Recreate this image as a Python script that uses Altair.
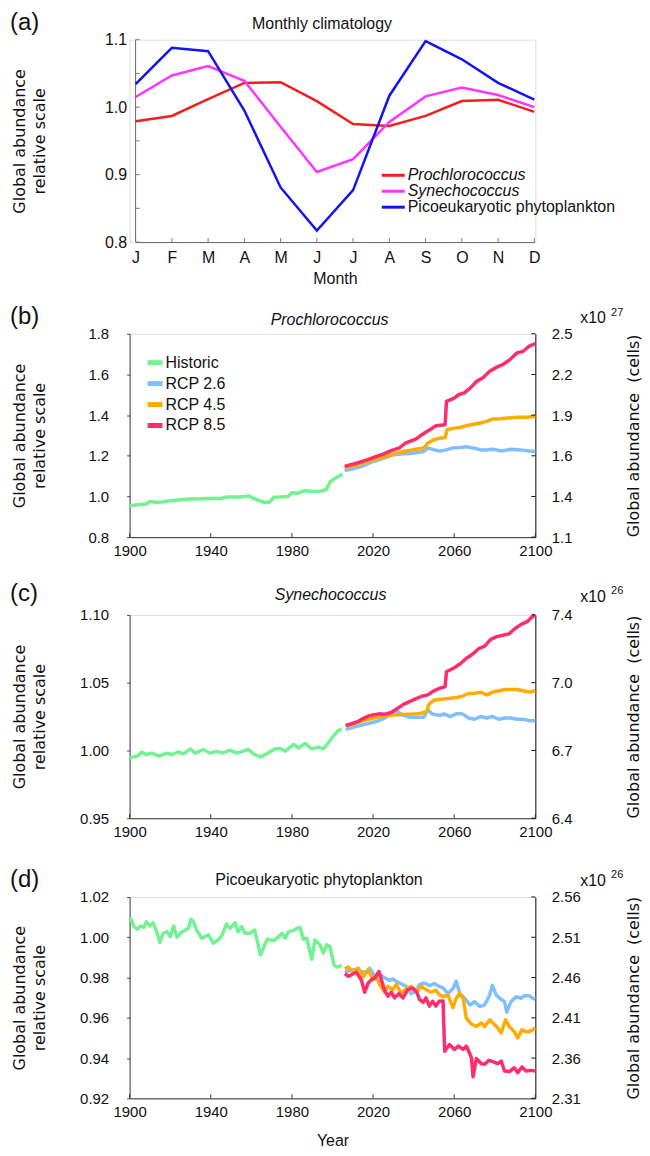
import altair as alt
import pandas as pd

FONT = "Liberation Sans"
TFONT = "DejaVu Sans"
INK = "#111111"

# ---------------- panel (a): monthly climatology ----------------
months = ["Jan", "Feb", "Mar", "Apr", "May", "Jun", "Jul", "Aug", "Sep", "Oct", "Nov", "Dec"]
a_species = ["Prochlorococcus", "Synechococcus", "Picoeukaryotic phytoplankton"]
a_colors = ["#f41d1d", "#ff34ff", "#1414ee"]
a_italic = [True, True, False]
a_pro = [0.979, 0.987, 1.012, 1.036, 1.037, 1.009, 0.975, 0.972, 0.987, 1.009, 1.011, 0.993]
a_syn = [1.015, 1.047, 1.061, 1.039, 0.971, 0.904, 0.923, 0.978, 1.016, 1.029, 1.018, 1.000]
a_pico = [1.034, 1.088, 1.083, 0.995, 0.881, 0.817, 0.877, 1.017, 1.098, 1.071, 1.036, 1.011]
a_minor_ticks = [0.8, 0.85, 0.9, 0.95, 1.0, 1.05, 1.1]
a_label_ticks = [0.8, 0.9, 1.0, 1.1]

# ---------------- time series shared ----------------
series = ["Historic", "RCP 2.6", "RCP 4.5", "RCP 8.5"]
series_colors = ["#72f291", "#80bfff", "#ffab00", "#ff2d6e"]
year_ticks = [1900, 1940, 1980, 2020, 2060, 2100]

# ---------------- panel (b): Prochlorococcus ----------------
b_hist_years = [1900, 1903, 1906, 1908, 1910, 1913, 1916, 1919, 1922, 1925, 1928, 1931, 1934, 1937,
                1941, 1945, 1948, 1951, 1954, 1957, 1959, 1961, 1964, 1966, 1969, 1971, 1975, 1978,
                1980, 1983, 1986, 1990, 1994, 1997, 1999, 2002, 2005]
b_hist_vals = [0.954, 0.958, 0.962, 0.962, 0.975, 0.972, 0.973, 0.978, 0.980, 0.984, 0.986, 0.989,
               0.988, 0.990, 0.990, 0.990, 0.997, 0.997, 0.997, 1.000, 1.003, 0.990, 0.979, 0.972,
               0.972, 0.996, 0.998, 1.000, 1.018, 1.016, 1.028, 1.025, 1.025, 1.035, 1.074, 1.093, 1.110]
b_26_years = [2006, 2010, 2015, 2020, 2025, 2030, 2035, 2040, 2045, 2047, 2050, 2053, 2056, 2060,
              2063, 2066, 2070, 2073, 2076, 2079, 2083, 2088, 2093, 2097, 2100]
b_26_vals = [1.128, 1.136, 1.150, 1.172, 1.187, 1.205, 1.210, 1.213, 1.221, 1.238, 1.230, 1.223,
             1.229, 1.240, 1.241, 1.244, 1.237, 1.229, 1.229, 1.232, 1.224, 1.232, 1.229, 1.224, 1.221]
b_45_years = [2006, 2010, 2015, 2020, 2025, 2030, 2035, 2040, 2045, 2047, 2050, 2053, 2055.5, 2056.5,
              2060, 2063, 2066, 2070, 2073, 2076, 2079, 2083, 2086, 2091, 2096, 2100]
b_45_vals = [1.143, 1.148, 1.164, 1.180, 1.192, 1.208, 1.221, 1.230, 1.238, 1.262, 1.279, 1.287,
             1.289, 1.328, 1.336, 1.339, 1.348, 1.356, 1.361, 1.369, 1.381, 1.382, 1.386, 1.389, 1.389, 1.394]
b_85_years = [2006, 2010, 2013, 2017, 2021, 2025, 2029, 2033, 2036, 2041, 2044, 2048, 2051, 2055.5,
              2056.2, 2060, 2062, 2065, 2068, 2071, 2074, 2077.5, 2081, 2084, 2087.5, 2091, 2094, 2097, 2100]
b_85_vals = [1.148, 1.159, 1.167, 1.180, 1.195, 1.208, 1.225, 1.239, 1.262, 1.282, 1.303, 1.328,
             1.348, 1.353, 1.468, 1.484, 1.500, 1.509, 1.534, 1.566, 1.583, 1.616, 1.636, 1.649,
             1.673, 1.706, 1.714, 1.739, 1.751]
b_left_ticks = [0.8, 1.0, 1.2, 1.4, 1.6, 1.8]
b_right_labels = ["1.1", "1.4", "1.6", "1.9", "2.2", "2.5"]

# ---------------- panel (c): Synechococcus ----------------
c_hist_years = [1900, 1903.8, 1906, 1908, 1911, 1914.4, 1918.4, 1921, 1924, 1926.6, 1930, 1932.3,
                1936.4, 1939.7, 1943, 1946, 1949.5, 1952.7, 1956, 1958.4, 1961.7, 1964.5, 1967.8,
                1971.8, 1974.3, 1976.7, 1980.8, 1983.3, 1986.5, 1989.8, 1993, 1995.5, 1998, 2000.4,
                2002.9, 2004.5]
c_hist_vals = [0.9946, 0.9958, 0.9988, 0.9970, 0.9980, 0.9958, 0.9980, 0.9970, 0.9990, 0.9975,
               1.0012, 0.9980, 1.0007, 0.9980, 0.9993, 0.9980, 1.0002, 0.9980, 0.9995, 1.0007,
               0.9970, 0.9953, 0.9978, 1.0012, 1.0015, 0.9995, 1.0044, 1.0020, 1.0052, 1.0012,
               1.0025, 1.0012, 1.0057, 1.0106, 1.0148, 1.0155]
c_26_years = [2006.5, 2010, 2014, 2018, 2022, 2026, 2029, 2032, 2034, 2038, 2042, 2045, 2047, 2049,
              2053, 2055, 2058, 2061, 2064, 2067, 2070, 2073, 2076, 2079, 2082, 2085, 2088, 2091,
              2094, 2097, 2100]
c_26_vals = [1.0155, 1.0170, 1.0185, 1.0200, 1.0215, 1.0240, 1.0275, 1.0290, 1.0265, 1.0245, 1.0245,
             1.0245, 1.0300, 1.0270, 1.0258, 1.0270, 1.0250, 1.0270, 1.0270, 1.0240, 1.0230, 1.0250,
             1.0240, 1.0250, 1.0230, 1.0240, 1.0240, 1.0230, 1.0230, 1.0220, 1.0220]
c_45_years = [2006.5, 2010, 2014, 2018, 2022, 2026, 2030, 2034, 2038, 2042, 2045, 2046.5, 2047.5,
              2050, 2053, 2055, 2058, 2061, 2064, 2067, 2070, 2073, 2076, 2079, 2082, 2085, 2088,
              2091, 2094, 2097, 2100]
c_45_vals = [1.0180, 1.0195, 1.0215, 1.0230, 1.0245, 1.0255, 1.0262, 1.0265, 1.0268, 1.0270, 1.0280,
             1.0290, 1.0340, 1.0370, 1.0378, 1.0380, 1.0385, 1.0390, 1.0400, 1.0420, 1.0420, 1.0430,
             1.0410, 1.0430, 1.0440, 1.0450, 1.0450, 1.0450, 1.0440, 1.0430, 1.0440]
c_85_years = [2006.5, 2009, 2012, 2015, 2018, 2020, 2023, 2026, 2029, 2032, 2035, 2038, 2041, 2044,
              2047, 2050, 2053, 2055.5, 2056.2, 2060, 2063, 2066, 2069, 2072, 2075, 2078, 2081, 2084,
              2087, 2090, 2093, 2096, 2098, 2100]
c_85_vals = [1.0185, 1.0195, 1.0210, 1.0235, 1.0255, 1.0262, 1.0270, 1.0268, 1.0280, 1.0310, 1.0340,
             1.0360, 1.0380, 1.0400, 1.0410, 1.0440, 1.0460, 1.0470, 1.0580, 1.0610, 1.0640, 1.0680,
             1.0710, 1.0750, 1.0770, 1.0820, 1.0840, 1.0850, 1.0860, 1.0900, 1.0930, 1.0950, 1.0980, 1.1000]
c_left_ticks = [0.95, 1.0, 1.05, 1.1]
c_right_labels = ["6.4", "6.7", "7.0", "7.4"]

# ---------------- panel (d): Picoeukaryotic phytoplankton ----------------
d_hist_years = [1900, 1901, 1902, 1903.8, 1905.4, 1907, 1908.3, 1910, 1911.6, 1913.6, 1914.9, 1916.5,
                1918.4, 1920, 1921.7, 1923.3, 1925, 1927.4, 1929, 1930.2, 1931.5, 1933, 1935.6, 1938.9,
                1941.3, 1943.8, 1945.4, 1947.8, 1949.5, 1952, 1953.5, 1955.2, 1956.8, 1959.3, 1961.7,
                1964.5, 1967.8, 1971, 1973.5, 1975.1, 1976.7, 1978.4, 1980.8, 1982.4, 1984, 1985.7,
                1987.3, 1989.8, 1991.4, 1993.9, 1995.5, 1997.1, 1998.8, 2000.7, 2002.4, 2004.5]
d_hist_vals = [1.0094, 1.0085, 1.0056, 1.0040, 1.0056, 1.0049, 1.0077, 1.0056, 1.0072, 1.0020, 0.9974,
               1.0020, 1.0028, 1.0003, 1.0056, 1.0000, 1.0020, 1.0036, 1.0044, 1.0089, 1.0077, 1.0036,
               0.9995, 1.0012, 0.9970, 0.9987, 1.0007, 1.0066, 1.0044, 1.0072, 1.0028, 1.0053, 1.0020,
               1.0020, 1.0036, 0.9913, 0.9990, 0.9984, 1.0003, 1.0020, 0.9995, 1.0028, 1.0033, 1.0044,
               1.0049, 0.9990, 0.9995, 0.9891, 0.9987, 0.9962, 0.9921, 0.9962, 0.9954, 0.9863, 0.9852,
               0.9860]
d_26_years = [2006.1, 2008.6, 2011.8, 2013.4, 2016.7, 2018.4, 2020.8, 2023.3, 2025.7, 2028.2, 2029.8,
              2031.4, 2033, 2036.3, 2038.8, 2041.2, 2042.9, 2045.3, 2047.8, 2050.2, 2052.6, 2054.5,
              2056.9, 2059.4, 2061, 2062.7, 2065.2, 2067.7, 2070.1, 2072.6, 2075, 2077.5, 2078.8,
              2080.7, 2082.4, 2084.8, 2085.9, 2088, 2090.5, 2093, 2094.6, 2097, 2098.7, 2100]
d_26_vals = [0.9826, 0.9835, 0.9842, 0.9830, 0.9826, 0.9847, 0.9806, 0.9819, 0.9798, 0.9786, 0.9793,
             0.9781, 0.9773, 0.9756, 0.9720, 0.9732, 0.9765, 0.9773, 0.9760, 0.9770, 0.9756, 0.9749,
             0.9721, 0.9746, 0.9782, 0.9721, 0.9697, 0.9664, 0.9680, 0.9656, 0.9664, 0.9713, 0.9762,
             0.9713, 0.9697, 0.9680, 0.9628, 0.9680, 0.9705, 0.9697, 0.9710, 0.9710, 0.9697, 0.9693]
d_45_years = [2006.1, 2007.8, 2010.2, 2012.7, 2015.1, 2017.6, 2020, 2021.6, 2023.6, 2025.7, 2027.3,
              2029.8, 2031.4, 2033.9, 2036.3, 2038.8, 2041.2, 2043.7, 2046.1, 2048.6, 2051, 2052.6,
              2054.5, 2056.9, 2059.4, 2061, 2062.7, 2064.4, 2066, 2068.5, 2070.9, 2073.4, 2075,
              2077.5, 2079.1, 2081.5, 2083.2, 2085.3, 2087.2, 2089.7, 2091.3, 2093.4, 2095, 2096.7,
              2098.7, 2100]
d_45_vals = [0.9842, 0.9852, 0.9826, 0.9847, 0.9802, 0.9839, 0.9789, 0.9802, 0.9760, 0.9727, 0.9756,
             0.9740, 0.9765, 0.9723, 0.9743, 0.9756, 0.9727, 0.9756, 0.9740, 0.9727, 0.9737, 0.9715,
             0.9705, 0.9713, 0.9651, 0.9697, 0.9721, 0.9697, 0.9598, 0.9569, 0.9557, 0.9574, 0.9557,
             0.9590, 0.9574, 0.9549, 0.9525, 0.9590, 0.9557, 0.9530, 0.9500, 0.9540, 0.9533, 0.9530,
             0.9540, 0.9549]
d_85_years = [2006.1, 2007.8, 2009.4, 2011.8, 2014.3, 2015.9, 2017.6, 2019.2, 2020.8, 2022.9, 2024.1,
              2025.7, 2027.3, 2029, 2030.6, 2032.7, 2034.7, 2037.1, 2039.6, 2041.6, 2042.9, 2044.8,
              2046.1, 2047.8, 2049.4, 2051, 2052.6, 2054.5, 2055.3, 2057.7, 2060.2, 2062, 2064.4,
              2066, 2068.5, 2069.3, 2070.9, 2073.4, 2075, 2077.1, 2079.1, 2081.5, 2083.2, 2084.8,
              2087.2, 2089.7, 2091.3, 2093.4, 2095.4, 2097.8, 2100]
d_85_vals = [0.9819, 0.9806, 0.9814, 0.9826, 0.9786, 0.9727, 0.9773, 0.9789, 0.9798, 0.9830, 0.9789,
             0.9737, 0.9707, 0.9727, 0.9699, 0.9720, 0.9699, 0.9740, 0.9748, 0.9727, 0.9691, 0.9677,
             0.9699, 0.9658, 0.9682, 0.9658, 0.9682, 0.9684, 0.9434, 0.9467, 0.9443, 0.9460, 0.9443,
             0.9460, 0.9402, 0.9307, 0.9398, 0.9372, 0.9369, 0.9389, 0.9382, 0.9372, 0.9385, 0.9336,
             0.9333, 0.9352, 0.9328, 0.9356, 0.9336, 0.9339, 0.9336]
d_left_ticks = [0.92, 0.94, 0.96, 0.98, 1.0, 1.02]
d_right_labels = ["2.31", "2.36", "2.41", "2.46", "2.51", "2.56"]

# ---------------- layout constants ----------------
W = 407
H_A, H_B, H_C, H_D = 203, 204, 204, 202
one = pd.DataFrame({"k": [0]})


def txt(text, x, y, size, align="left", style="normal", font=FONT, color=INK):
    return alt.Chart(one).mark_text(
        text=text, align=align, baseline="middle", fontSize=size, font=font,
        fontStyle=style, color=color
    ).encode(x=alt.value(x), y=alt.value(y))


def hrule(x1, x2, y, color, width, opacity=1.0):
    return alt.Chart(one).mark_rule(color=color, strokeWidth=width, strokeOpacity=opacity).encode(
        x=alt.value(x1), x2=alt.value(x2), y=alt.value(y))


def label_expr(vals, labels):
    expr = "''"
    for v, l in zip(vals, labels):
        expr = f"abs(datum.value - {v}) < 1e-6 ? '{l}' : ({expr})"
    return expr


def left_title_axis(H, values, fmt, padding, size, extra):
    return alt.Axis(
        values=values, format=fmt, labelFont=FONT, labelFontSize=size, labelColor=INK,
        labelPadding=padding, grid=False,
        title=["Global abundance", "relative scale"], titleFont=TFONT, titleFontSize=16,
        titleFontWeight="normal", titleColor=INK, titleAngle=270, titleX=-110, titleY=H / 2,
        titleAlign="center", titleBaseline="middle", titleLineHeight=20, **extra)


# ---------------- panel (a) ----------------
rows = []
for sp, vals in zip(a_species, [a_pro, a_syn, a_pico]):
    for m, v in zip(months, vals):
        rows.append({"month": m, "value": v, "species": sp})
df_a = pd.DataFrame(rows)

xs_a = alt.Scale(type="point", domain=months, range=[6, 406], padding=0)
ys_a = alt.Scale(domain=[0.8, 1.1], nice=False, zero=False)
cs_a = alt.Scale(domain=a_species, range=a_colors)
xa_axis = alt.Axis(labelExpr="substring(datum.label, 0, 1)", ticks=False, labelPadding=8, labelAngle=0,
                   domainColor="#666666", labelFont=FONT, labelFontSize=16, labelColor=INK,
                   title="Month", titleFont=FONT, titleFontSize=16, titleFontWeight="normal",
                   titleColor=INK, titleY=37, titleBaseline="middle", grid=False)
ya_axis = left_title_axis(H_A, a_label_ticks, ".1f", 3, 16, {"domain": False, "ticks": False})

a_layers = []
for sp in a_species:
    a_layers.append(
        alt.Chart(df_a).transform_filter(alt.datum.species == sp).mark_line(strokeWidth=2.5).encode(
            x=alt.X("month:N", scale=xs_a, axis=xa_axis),
            y=alt.Y("value:Q", scale=ys_a, axis=ya_axis),
            color=alt.Color("species:N", scale=cs_a, legend=None)))
a_yticks = alt.Chart(pd.DataFrame({"value": a_minor_ticks})).mark_rule(color="#777777").encode(
    y=alt.Y("value:Q", scale=ys_a, axis=ya_axis), x=alt.value(6), x2=alt.value(10))
a_xticks = alt.Chart(pd.DataFrame({"month": months})).mark_rule(color="#777777").encode(
    x=alt.X("month:N", scale=xs_a, axis=xa_axis), y=alt.value(H_A - 4), y2=alt.value(H_A))
a_yline = alt.Chart(one).mark_rule(color="#666666").encode(
    x=alt.value(6), y=alt.value(0), y2=alt.value(H_A))
a_extra = [txt("(a)", -120, -17, 24), txt("Monthly climatology", 193, -16, 16, align="center"),
           hrule(0, 1, -28, "#ffffff", 1, 0.0)]
for i, (sp, col, it) in enumerate(zip(a_species, a_colors, a_italic)):
    a_extra.append(hrule(253, 276, 136 + 16 * i, col, 3))
    a_extra.append(txt(sp, 279, 136 + 16 * i, 16, style="italic" if it else "normal"))
panel_a = alt.layer(a_yline, a_yticks, a_xticks, *a_layers, *a_extra).properties(width=W, height=H_A)


# ---------------- time-series panels ----------------
def ts_panel(letter, title, italic, data, ydomain, ticks, fmt, right_labels, exponent, H,
             spacer, title_x, title_y, letter_y, x10_y, sup_y, legend=False, xtitle=False):
    rows = []
    for name, (yrs, vals) in zip(series, data):
        for yv, v in zip(yrs, vals):
            rows.append({"year": yv, "value": v, "series": name})
    df = pd.DataFrame(rows)
    xs = alt.Scale(domain=[1900, 2100], nice=False, zero=False)
    ys = alt.Scale(domain=ydomain, nice=False, zero=False)
    cs = alt.Scale(domain=series, range=series_colors)
    xkw = dict(values=year_ticks, format="d", labelFont=FONT, labelFontSize=15, labelColor=INK,
               ticks=False, labelPadding=6, domainColor="#333333", grid=False, labelFlush=False,
               labelOverlap=False)
    if xtitle:
        xkw.update(title="Year", titleFont=FONT, titleFontSize=16, titleFontWeight="normal",
                   titleColor=INK, titleY=42, titleBaseline="middle")
    else:
        xkw.update(title=None)
    xaxis = alt.Axis(**xkw)
    yaxis = left_title_axis(H, ticks, fmt, 18, 15,
                            {"tickSize": 3, "tickColor": "#444444", "domainColor": "#444444",
                             "labelOverlap": False})
    line_layers = []
    for name in series:
        line_layers.append(
            alt.Chart(df).transform_filter(alt.datum.series == name).mark_line(
                strokeWidth=3.5, strokeJoin="round").encode(
                x=alt.X("year:Q", scale=xs, axis=xaxis),
                y=alt.Y("value:Q", scale=ys, axis=yaxis),
                color=alt.Color("series:N", scale=cs, legend=None)))
    xticks = alt.Chart(pd.DataFrame({"year": year_ticks})).mark_rule(color="#333333").encode(
        x=alt.X("year:Q", scale=xs, axis=xaxis), y=alt.value(H - 4), y2=alt.value(H))
    inner = alt.layer(xticks, *line_layers)
    raxis = alt.Axis(orient="right", values=ticks, labelExpr=label_expr(ticks, right_labels),
                     ticks=False, labelPadding=16, domainColor=INK, labelFont=FONT, labelFontSize=15,
                     labelColor=INK, grid=False, labelOverlap=False,
                     title="Global abundance\u00a0 (cells)", titleFont=TFONT, titleFontSize=16,
                     titleFontWeight="normal", titleColor=INK, titleAngle=270, titleX=98,
                     titleY=H / 2, titleAlign="center", titleBaseline="middle")
    right = alt.Chart(pd.DataFrame({"tick": ticks})).mark_rule(color=INK).encode(
        y=alt.Y("tick:Q", scale=ys, axis=raxis), x=alt.value(W - 4), x2=alt.value(W))
    extras = [txt(letter, -120, letter_y, 24),
              txt(title, title_x, title_y, 16, align="center", style="italic" if italic else "normal"),
              txt("x10", W + 45, x10_y, 16), txt(exponent, W + 76, sup_y, 11),
              hrule(0, 1, spacer, "#ffffff", 1, 0.0)]
    if legend:
        for i, (name, col) in enumerate(zip(series, series_colors)):
            extras.append(hrule(18, 33, 29 + 21 * i, col, 5))
            extras.append(txt(name, 36, 29 + 21 * i, 16))
    return alt.layer(inner, right, *extras).resolve_scale(y="independent").properties(width=W, height=H)


panel_b = ts_panel("(b)", "Prochlorococcus", True,
                   [(b_hist_years, b_hist_vals), (b_26_years, b_26_vals), (b_45_years, b_45_vals),
                    (b_85_years, b_85_vals)],
                   [0.8, 1.8], b_left_ticks, ".1f", b_right_labels, "27", H_B,
                   -45, 200.6, -14, -17, -16, -21, legend=True)
panel_c = ts_panel("(c)", "Synechococcus", True,
                   [(c_hist_years, c_hist_vals), (c_26_years, c_26_vals), (c_45_years, c_45_vals),
                    (c_85_years, c_85_vals)],
                   [0.95, 1.1], c_left_ticks, ".2f", c_right_labels, "26", H_C,
                   -55, 201.6, -20, -21, -18, -24)
panel_d = ts_panel("(d)", "Picoeukaryotic phytoplankton", False,
                   [(d_hist_years, d_hist_vals), (d_26_years, d_26_vals), (d_45_years, d_45_vals),
                    (d_85_years, d_85_vals)],
                   [0.92, 1.02], d_left_ticks, ".2f", d_right_labels, "26", H_D,
                   -56, 190, -17, -17, -16, -22, xtitle=True)

chart = alt.vconcat(panel_a, panel_b, panel_c, panel_d, spacing=0).resolve_scale(
    color="independent"
).properties(
    padding={"left": 1, "top": 0, "right": 0, "bottom": 0}
).configure_view(strokeWidth=0).configure(font=FONT)

chart.save("out.html", embed_options={"renderer": "svg", "actions": False})
